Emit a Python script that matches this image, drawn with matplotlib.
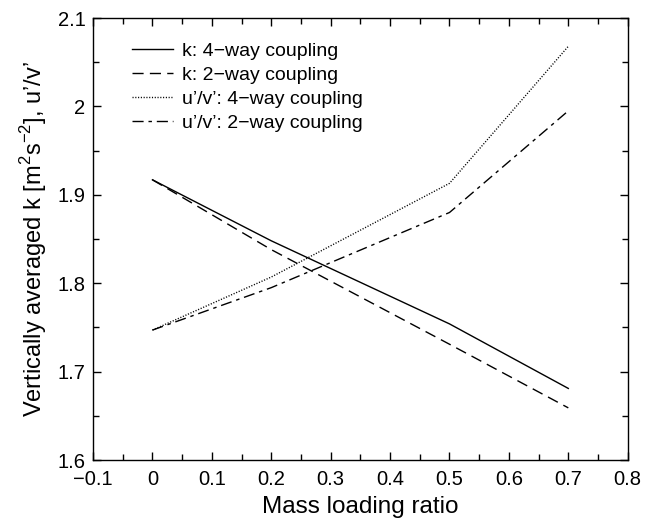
import matplotlib
matplotlib.use("Agg")
import matplotlib.pyplot as plt
from matplotlib.ticker import MultipleLocator, FuncFormatter

plt.rcParams['font.family'] = ['Liberation Sans', 'DejaVu Sans']
plt.rcParams['mathtext.fontset'] = 'custom'
plt.rcParams['mathtext.rm'] = 'Liberation Sans'

mass_loading = [0.0, 0.2, 0.5, 0.7]
k_4way = [1.917, 1.848, 1.754, 1.681]
k_2way = [1.917, 1.838, 1.731, 1.659]
uv_4way = [1.747, 1.807, 1.913, 2.068]
uv_2way = [1.747, 1.795, 1.880, 1.995]
labels = ["k: 4\u2212way coupling", "k: 2\u2212way coupling",
          "u\u2019/v\u2019: 4\u2212way coupling", "u\u2019/v\u2019: 2\u2212way coupling"]

fig = plt.figure(figsize=(6.56, 5.19), dpi=100)
ax = fig.add_axes([0.1418, 0.1136, 0.8151, 0.8517])

ax.plot(mass_loading, k_4way, color='black', lw=1.0, ls='-', label=labels[0])
ax.plot(mass_loading, k_2way, color='black', lw=1.0, dashes=(8, 4.5), label=labels[1])
ax.plot(mass_loading, uv_4way, color='black', lw=1.0, dashes=(0.8, 1.2), label=labels[2])
ax.plot(mass_loading, uv_2way, color='black', lw=1.0, dashes=(8, 3.5, 2.5, 3.5), label=labels[3])

ax.set_xlim(-0.1, 0.8)
ax.set_ylim(1.6, 2.1)
ax.xaxis.set_major_locator(MultipleLocator(0.1))
ax.xaxis.set_minor_locator(MultipleLocator(0.05))
ax.yaxis.set_major_locator(MultipleLocator(0.1))
ax.yaxis.set_minor_locator(MultipleLocator(0.05))
fmt = FuncFormatter(lambda v, p: ('%g' % round(v, 3)).replace('-', '\u2212'))
ax.xaxis.set_major_formatter(fmt)
ax.yaxis.set_major_formatter(fmt)
ax.tick_params(which='both', direction='in', top=True, right=True, labelsize=14.5, width=1.0)
ax.tick_params(which='major', length=6)
ax.tick_params(which='minor', length=4)
ax.tick_params(axis='x', which='major', pad=7)
ax.tick_params(axis='y', which='major', pad=5.5)
for s in ax.spines.values():
    s.set_linewidth(1.0)

ax.set_xlabel("Mass loading ratio", fontsize=17.5, labelpad=5)
ax.set_ylabel("Vertically averaged k [m$^{\\mathregular{2}}$s$^{\\mathregular{\u22122}}$], u\u2019/v\u2019",
              fontsize=17, labelpad=6)

leg = ax.legend(loc='upper left', bbox_to_anchor=(0.04, 0.985), frameon=False, fontsize=14,
                handlelength=2.1, handletextpad=0.5, labelspacing=0.33)

fig.savefig("out.png", dpi=100)
